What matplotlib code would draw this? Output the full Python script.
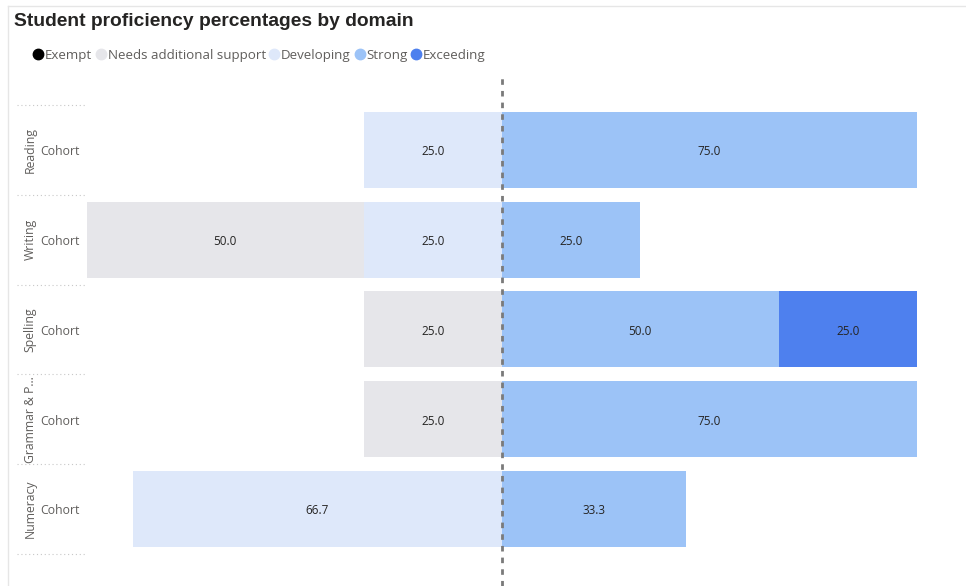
import numpy as np
from matplotlib import pyplot as plt
from matplotlib.lines import Line2D
from matplotlib.transforms import blended_transform_factory

plt.rcParams['font.family'] = ['Open Sans', 'DejaVu Sans']

domains = ["Reading", "Writing", "Spelling", "Grammar & P...", "Numeracy"]
group = "Cohort"
levels = ["Exempt", "Needs additional support", "Developing", "Strong", "Exceeding"]
colors = ["#000000", "#E6E6EA", "#DEE8FA", "#9CC3F7", "#4E80EE"]

exempt = [0, 0, 0, 0, 0]
needs = [0, 50.0, 25.0, 25.0, 0]
developing = [25.0, 25.0, 0, 0, 66.7]
strong = [75.0, 25.0, 50.0, 75.0, 33.3]
exceeding = [0, 0, 25.0, 0, 0]

W, H = 966, 586
fig = plt.figure(figsize=(W / 100, H / 100), dpi=100)

# axes: x from pixel 87 to 960, y from 77 to 586
ax = fig.add_axes([87 / W, 0, (960 - 87) / W, (586 - 77) / H])
ax.set_xlim(-75, (960 - 502) / 5.533)
ax.set_ylim(4.858, -0.813)
ax.axis("off")

y = np.arange(len(domains))
h = 0.847

def label(ax, left, width, yy):
    for l, w_, yv in zip(left, width, yy):
        if w_ > 0:
            ax.text(l + w_ / 2, yv + 0.02, f"{w_:.1f}", ha="center", va="center",
                    fontsize=8.5, color="#252423")

# negative side: developing nearest zero, then needs, then exempt
dev = np.array(developing)
nd = np.array(needs)
ex = np.array(exempt)
ax.barh(y, -dev, left=0, height=h, color=colors[2])
label(ax, -dev, dev, y)
ax.barh(y, -nd, left=-dev, height=h, color=colors[1])
label(ax, -dev - nd, nd, y)
ax.barh(y, -ex, left=-dev - nd, height=h, color=colors[0])

st = np.array(strong)
ec = np.array(exceeding)
ax.barh(y, st, left=0, height=h, color=colors[3])
label(ax, np.zeros(len(y)), st, y)
ax.barh(y, ec, left=st, height=h, color=colors[4])
label(ax, st, ec, y)

ax.axvline(0, color="#7a7a7a", lw=2, ls=(0, (2, 2.2)), zorder=5)

# row labels and separators
tr = blended_transform_factory(fig.transFigure, ax.transData)
for i, d in enumerate(domains):
    ax.text(30 / W, i, d, transform=tr, rotation=90, ha="center", va="center",
            fontsize=8.8, color="#605E5C")
    ax.text(40 / W, i + 0.02, group, transform=tr, ha="left", va="center",
            fontsize=8.8, color="#605E5C")
for b in np.arange(len(domains) + 1) - 0.5:
    ax.add_line(Line2D([17 / W, 87 / W], [b, b], transform=tr, color="#c8c8c8",
                       lw=0.8, ls=(0, (1, 2.5)), clip_on=False))

# frame
fig.add_artist(Line2D([8 / W, 965 / W], [1 - 6 / H, 1 - 6 / H], color="#e6e6e6", lw=1))
fig.add_artist(Line2D([8 / W, 8 / W], [0, 1 - 6 / H], color="#e6e6e6", lw=1))

fig.text(14 / W, 1 - 22 / H, "Student proficiency percentages by domain",
         fontsize=13.9, fontweight="bold", color="#252423", va="center",
         family=["Liberation Sans", "DejaVu Sans"])

handles = [Line2D([], [], marker="o", ls="", color=c, markersize=7.5) for c in colors]
fig.legend(handles, levels, loc="center left", bbox_to_anchor=(29 / W, 1 - 55 / H),
           ncol=5, frameon=False, handlelength=0.6, handletextpad=0.2,
           columnspacing=0.35, fontsize=9.6, labelcolor="#605E5C", borderaxespad=0)

fig.savefig("out.png", dpi=100)
